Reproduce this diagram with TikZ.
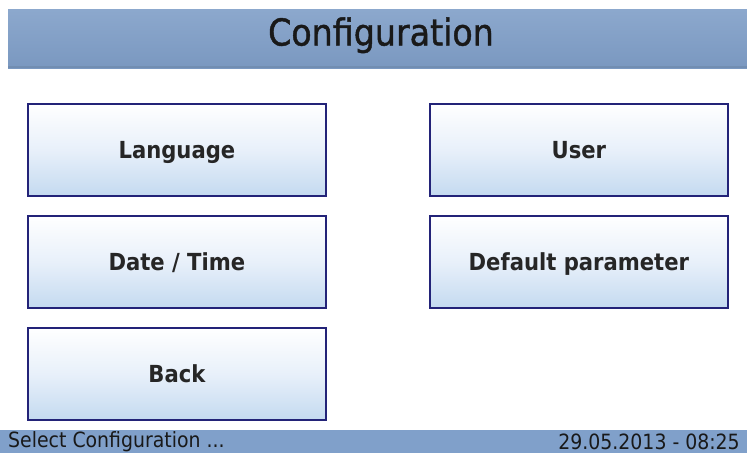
\documentclass[tikz,border=0pt]{standalone}
\usepackage{fontspec}
\setmainfont{DejaVu Sans Condensed}
\newfontfamily\titlefont[FakeBold=1.2]{DejaVu Sans Condensed}
\begin{document}
\begin{tikzpicture}[x=1pt,y=-1pt,
  btn/.style={draw=navy,line width=1.8pt,top color=white,bottom color=btnblue,middle color=btnmid,
    minimum width=298pt,minimum height=92pt,anchor=north west,inner sep=0pt,
    text height=17pt,text depth=0pt,
    font=\fontsize{23.5}{27}\selectfont\bfseries,text=black!85},
  bar/.style={inner sep=0pt,anchor=north west},
  stext/.style={inner sep=0pt,font=\fontsize{21}{24}\selectfont,text=black!90}]
\definecolor{navy}{RGB}{35,35,120}
\definecolor{btnblue}{RGB}{196,218,240}
\definecolor{btnmid}{RGB}{232,240,250}
\definecolor{hdtop}{RGB}{140,168,205}
\definecolor{hdbot}{RGB}{122,152,192}
\definecolor{stat}{RGB}{128,160,202}
\useasboundingbox (0,0) rectangle (747,453);
\fill[white] (0,0) rectangle (747,453);
% header
\node[bar,top color=hdtop,bottom color=hdbot,minimum width=739pt,minimum height=59pt] (hdr) at (8,9) {};
\fill[hdbot!80!black,opacity=0.35] (8,66) rectangle (747,68);
\node[inner sep=0pt,text height=27pt,text depth=0pt,font=\titlefont\fontsize{37}{42}\selectfont,text=black!90] (title) at (381,32) {Configuration};
% buttons
\node[btn] (lang) at (27,103) {Language};
\node[btn] (user) at (429,103) {User};
\node[btn] (date) at (27,215) {Date / Time};
\node[btn] (defp) at (429,215) {Default parameter};
\node[btn] (back) at (27,327) {Back};
% status bar
\node[bar,fill=stat,minimum width=747pt,minimum height=23pt] (status) at (0,430) {};
\node[stext,anchor=west] (sel) at (8,441.5) {Select Configuration ...};
\node[stext,anchor=east] (dt) at (740,441.5) {29.05.2013 - 08:25};
\end{tikzpicture}
\end{document}
